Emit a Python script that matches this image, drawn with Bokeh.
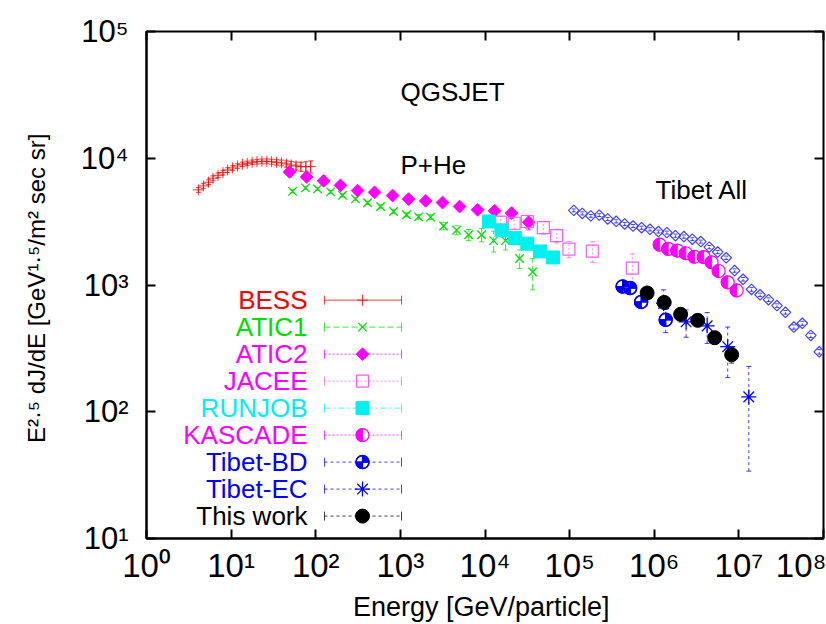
import numpy as np
from bokeh.plotting import figure
from bokeh.models import ColumnDataSource, Whisker, TeeHead, Label, LogAxis, FixedTicker
from bokeh.core.properties import value
from bokeh.embed import file_html
from bokeh.resources import INLINE

# ---------------- data ----------------
bess_E = [4.1, 4.7, 5.4, 6.1, 7.0, 8.0, 9.1, 10.4, 11.9, 13.6, 15.5, 17.7, 20.2, 23.1,
          26.4, 30.1, 34.4, 39.3, 44.9, 51.2, 58.5, 66.8, 76.3, 87.1]
bess_F = [5630, 6050, 6470, 6960, 7340, 7700, 8080, 8380, 8690, 8960, 9120, 9290, 9390, 9460,
          9460, 9390, 9290, 9190, 9020, 8860, 8690, 8590, 8590, 8590]
bess_dF = [250, 260, 280, 300, 310, 320, 340, 350, 360, 370, 380, 390, 400, 410,
           420, 430, 450, 480, 520, 570, 630, 700, 800, 950]

atic1_E = [53.2, 75.7, 105, 150, 207, 295, 410, 584, 831, 1183, 1641, 2276, 3244, 4616,
           6400, 9120, 12640, 17500, 25640, 36550]
atic1_F = [5480, 5840, 5730, 5430, 5100, 4780, 4450, 4160, 3800, 3580, 3450, 3430, 2920, 2710,
           2490, 2490, 2240, 2240, 1620, 1265]
atic1_dF = [150, 150, 150, 140, 140, 130, 130, 130, 130, 130, 140, 150, 200, 220,
            250, 300, 420, 350, 270, 350]

atic2_E = [49, 78, 124, 196, 312, 495, 809, 1250, 1990, 3150, 5010, 8180, 12980, 20600, 32800]
atic2_F = [7790, 7120, 6630, 6110, 5560, 5380, 5080, 4760, 4610, 4470, 4160, 3920, 3850, 3690, 3120]
atic2_dF = [200, 180, 170, 160, 150, 150, 150, 150, 160, 170, 200, 250, 300, 350, 400]

jacee_E = [15290, 22080, 31620, 48890, 70240, 98110, 185400, 551000]
jacee_F = [3130, 3070, 3170, 2840, 2450, 1920, 1850, 1360]
jacee_dF = [350, 330, 380, 320, 300, 280, 340, 400]

runjob_E = [11120, 15710, 22550, 31620, 44560, 63510]
runjob_F = [3170, 2700, 2350, 2120, 1840, 1650]
runjob_dF = [150, 130, 120, 110, 100, 100]

kascade_E = [1.16e6, 1.46e6, 1.87e6, 2.36e6, 2.98e6, 3.84e6, 4.76e6, 5.77e6, 7.38e6, 9.42e6]
kascade_F = [2080, 1930, 1870, 1780, 1670, 1660, 1510, 1290, 1050, 906]
kascade_dF = [100, 90, 90, 90, 80, 80, 80, 70, 60, 60]

tibetbd_E = [4.23e5, 5.19e5, 7.0e5, 1.365e6]
tibetbd_F = [973, 946, 735, 531]
tibetbd_dF = [60, 60, 60, 110]

tibetec_E = [1.29e6, 2.38e6, 4.22e6, 7.38e6, 1.31e7]
tibetec_F = [716, 512, 476, 326, 131]
tibetec_dF = [200, 125, 130, 140, 97]

thiswork_E = [8.24e5, 1.31e6, 2.05e6, 3.26e6, 5.18e6, 8.22e6]
thiswork_F = [865, 729, 587, 526, 384, 282]
thiswork_dF = [50, 50, 45, 45, 40, 40]

tibetall_E = [1.12e5, 1.41e5, 1.78e5, 2.24e5, 2.82e5, 3.55e5, 4.47e5, 5.62e5, 7.08e5, 8.91e5,
              1.12e6, 1.41e6, 1.78e6, 2.24e6, 2.82e6, 3.55e6, 4.47e6, 5.62e6, 7.08e6, 8.91e6,
              1.12e7, 1.41e7, 1.78e7, 2.24e7, 2.82e7, 3.55e7, 4.47e7, 5.62e7, 7.08e7, 8.91e7]
tibetall_F = [3880, 3670, 3510, 3560, 3320, 3180, 3030, 2920, 2830, 2750,
              2640, 2590, 2450, 2410, 2300, 2200, 1990, 1820, 1640, 1300,
              1110, 923, 837, 766, 688, 609, 466, 499, 400, 297]
tibetall_dF = [100, 100, 90, 90, 90, 90, 80, 80, 80, 80,
               70, 70, 70, 70, 60, 60, 60, 50, 50, 40,
               35, 30, 25, 25, 22, 20, 18, 18, 15, 12]

legend_names = ["BESS", "ATIC1", "ATIC2", "JACEE", "RUNJOB", "KASCADE", "Tibet-BD", "Tibet-EC", "This work"]
x_ticks = [1, 10, 100, 1e3, 1e4, 1e5, 1e6, 1e7, 1e8]
y_ticks = [10, 100, 1e3, 1e4, 1e5]
x_title = "Energy  [GeV/particle]"
y_title = "E²·⁵ dJ/dE  [GeV¹·⁵/m² sec sr]"

# ---------------- styles ----------------
RED, GREEN, MAG, PINK, CYAN, BLUE, BLACK = "#ff0000", "#00dd00", "#ff00ff", "#f060f0", "#00f0f0", "#0000ff", "#000000"
style = {
    "BESS":      dict(color=RED,   text=RED,   dash="solid"),
    "ATIC1":     dict(color=GREEN, text=GREEN, dash="6 3"),
    "ATIC2":     dict(color=MAG,   text=MAG,   dash="2 2"),
    "JACEE":     dict(color=PINK,  text=MAG,   dash="2 2"),
    "RUNJOB":    dict(color=CYAN,  text=CYAN,  dash="6 3 2 3"),
    "KASCADE":   dict(color=MAG,   text=MAG,   dash="2 2"),
    "Tibet-BD":  dict(color=BLUE,  text=BLUE,  dash="3 3"),
    "Tibet-EC":  dict(color=BLUE,  text=BLUE,  dash="3 3"),
    "This work": dict(color=BLACK, text=BLACK, dash="3 3"),
}
series = {
    "BESS": (bess_E, bess_F, bess_dF),
    "ATIC1": (atic1_E, atic1_F, atic1_dF),
    "ATIC2": (atic2_E, atic2_F, atic2_dF),
    "JACEE": (jacee_E, jacee_F, jacee_dF),
    "RUNJOB": (runjob_E, runjob_F, runjob_dF),
    "KASCADE": (kascade_E, kascade_F, kascade_dF),
    "Tibet-BD": (tibetbd_E, tibetbd_F, tibetbd_dF),
    "Tibet-EC": (tibetec_E, tibetec_F, tibetec_dF),
    "This work": (thiswork_E, thiswork_F, thiswork_dF),
}

SANS = "Liberation Sans"

XMIN, XMAX, YMIN, YMAX = 1.0, 1e8, 10.0, 1e5
W, H = 826, 624
BL, BR, BT, BB = 146, 3, 31, 84
FW, FH = W - BL - BR, H - BT - BB  # frame size in px
LX0, LX1, LY0, LY1 = np.log10(XMIN), np.log10(XMAX), np.log10(YMIN), np.log10(YMAX)

def fxd(sx):
    return 10 ** (LX0 + sx / FW * (LX1 - LX0))

def fyd(sy):
    return 10 ** (LY0 + sy / FH * (LY1 - LY0))

p = figure(width=W, height=H, x_axis_type="log", y_axis_type="log",
           x_range=(XMIN, XMAX), y_range=(YMIN, YMAX),
           output_backend="svg", toolbar_location=None,
           min_border_left=BL, min_border_right=BR, min_border_top=BT, min_border_bottom=BB)
p.grid.visible = False
p.outline_line_color = "black"
p.outline_line_width = 2
p.background_fill_color = "white"
p.border_fill_color = "white"

sup = str.maketrans("0123456789", "⁰¹²³⁴⁵⁶⁷⁸⁹")
def lab(v):
    return "10" + str(int(round(np.log10(v)))).translate(sup)

for ax, ticks in ((p.xaxis[0], x_ticks), (p.yaxis[0], y_ticks)):
    ax.ticker = FixedTicker(ticks=ticks)
    ax.major_label_overrides = {t: lab(t) for t in ticks}
    ax.axis_line_width = 2
    ax.major_tick_in = 9
    ax.major_tick_out = 0
    ax.major_tick_line_width = 2
    ax.minor_tick_line_color = None
    ax.major_label_text_color = "black"
    ax.axis_label_text_color = "black"
    ax.axis_label_text_font_style = "normal"
    ax.major_label_text_font = SANS
    ax.axis_label_text_font = SANS

p.xaxis.major_label_text_font_size = "33px"
p.xaxis.major_label_standoff = 8
p.xaxis.axis_label = x_title
p.xaxis.axis_label_text_font_size = "27px"
p.xaxis.axis_label_standoff = 5

p.yaxis.major_label_text_font_size = "31px"
p.yaxis.major_label_standoff = 18
p.yaxis.axis_label = y_title
p.yaxis.axis_label_text_font_size = "24px"
p.yaxis.axis_label_standoff = 28

for loc, ticks in (("right", y_ticks), ("above", x_ticks)):
    ax = LogAxis(ticker=FixedTicker(ticks=ticks), major_label_overrides={t: "" for t in ticks},
                 major_label_text_font_size="6px", major_label_text_alpha=0,
                 major_label_standoff=0, major_tick_in=9, major_tick_out=0,
                 major_tick_line_width=2, minor_tick_line_color=None, axis_line_color=None)
    p.add_layout(ax, loc)

# ---------------- markers ----------------
def draw_marker(name, src):
    c = style[name]["color"]
    if name == "BESS":
        p.scatter("x", "y", source=src, marker="cross", size=11, line_color=c, line_width=1, line_alpha=0.8)
    elif name == "ATIC1":
        p.scatter("x", "y", source=src, marker="x", size=12, line_color=c, line_width=1.3)
    elif name == "ATIC2":
        p.scatter("x", "y", source=src, marker="square", angle=np.pi / 4, size=9, fill_color=c, line_color=c)
    elif name == "JACEE":
        p.scatter("x", "y", source=src, marker="square", size=12, fill_color=None, line_color=c, line_width=1.2)
    elif name == "RUNJOB":
        p.scatter("x", "y", source=src, marker="square", size=13, fill_color=c, line_color=c)
    elif name == "KASCADE":
        p.scatter("x", "y", source=src, marker="circle", size=13, fill_color="white", line_color=c, line_width=1.2)
        p.wedge("x", "y", source=src, radius=6.5, radius_units="screen", start_angle=np.pi / 2,
                end_angle=3 * np.pi / 2, fill_color=c, line_color=c)
    elif name == "Tibet-BD":
        p.scatter("x", "y", source=src, marker="circle", size=13, fill_color="white", line_color=c, line_width=1.5)
        for a0 in (0, np.pi):
            p.wedge("x", "y", source=src, radius=6.5, radius_units="screen", start_angle=a0,
                    end_angle=a0 + np.pi / 2, fill_color=c, line_color=c)
        p.scatter("x", "y", source=src, marker="circle_cross", size=13, fill_color=None, line_color=c, line_width=1.2)
    elif name == "Tibet-EC":
        p.scatter("x", "y", source=src, marker="asterisk", size=15, line_color=c, line_width=1.3)
    elif name == "This work":
        p.scatter("x", "y", source=src, marker="circle", size=14, fill_color=c, line_color=c)

def whisker(src, c, dash, dim, hsize):
    kw = dict(line_color=c, line_width=1, line_alpha=0.75)
    return Whisker(source=src, base="b", lower="lo", upper="hi", dimension=dim,
                   line_dash=dash, upper_head=TeeHead(size=hsize, **kw),
                   lower_head=TeeHead(size=hsize, **kw), **kw)

# Tibet All (not in legend)
ta_src = ColumnDataSource(dict(x=tibetall_E, y=tibetall_F, b=tibetall_E,
                               lo=[f - d for f, d in zip(tibetall_F, tibetall_dF)],
                               hi=[f + d for f, d in zip(tibetall_F, tibetall_dF)]))
p.add_layout(whisker(ta_src, BLUE, "2 2", "height", 4))
p.scatter("x", "y", source=ta_src, marker="square", angle=np.pi / 4, size=7.5,
          fill_color=None, line_color="#4040ff", line_width=1.2)

for name in legend_names:
    E, F, dF = series[name]
    src = ColumnDataSource(dict(x=E, y=F, b=E,
                                lo=[f - d for f, d in zip(F, dF)],
                                hi=[f + d for f, d in zip(F, dF)]))
    p.add_layout(whisker(src, style[name]["color"], style[name]["dash"], "height", 5))
    draw_marker(name, src)

# ---------------- legend (built by hand: text right, sample left) ----------------
LEG_TEXT_X, LEG_L, LEG_R, LEG_M = 161, 178, 255, 216
LEG_Y0, LEG_DY = 239.3, 27.1
for i, name in enumerate(legend_names):
    yy = fyd(LEG_Y0 - i * LEG_DY)
    p.text(x=[fxd(LEG_TEXT_X)], y=[yy], text=[name], text_align="right", text_baseline="middle",
           text_font=value(SANS), text_font_size="26px", text_color=style[name]["text"])
    lsrc = ColumnDataSource(dict(b=[yy], lo=[fxd(LEG_L)], hi=[fxd(LEG_R)]))
    p.add_layout(whisker(lsrc, style[name]["color"], style[name]["dash"], "width", 9))
    draw_marker(name, ColumnDataSource(dict(x=[fxd(LEG_M)], y=[yy])))

# ---------------- in-plot texts ----------------
for txt, sx, sy in (("QGSJET", 254, 432), ("P+He", 254, 359), ("Tibet All", 509, 334)):
    p.add_layout(Label(x=sx, y=sy, x_units="screen", y_units="screen", text=txt,
                       text_font=SANS, text_font_size="26px", text_color="black"))

open("out.html", "w").write(file_html(p, INLINE))
